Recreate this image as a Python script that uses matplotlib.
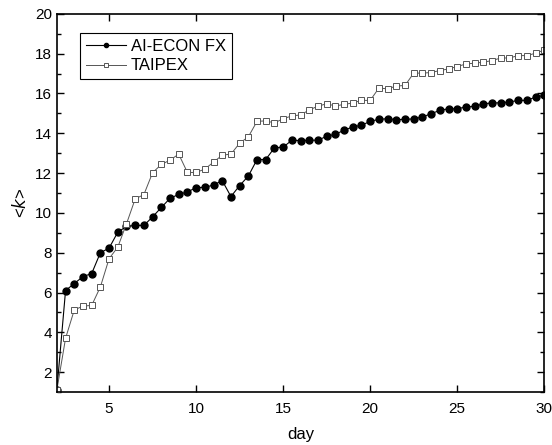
import numpy as np
import matplotlib
matplotlib.use("Agg")
import matplotlib.pyplot as plt
from matplotlib.ticker import MultipleLocator

plt.rcParams['font.family'] = ['Liberation Sans', 'DejaVu Sans']

# day axis: one sample every half day
days = np.arange(2.0, 30.01, 0.5)

ai_econ = [1.1, 6.1, 6.45, 6.8, 6.95, 8.0, 8.23, 9.03, 9.32, 9.37, 9.37, 9.8,
           10.27, 10.73, 10.93, 11.05, 11.27, 11.28, 11.4, 11.62, 10.82, 11.37,
           11.85, 12.68, 12.68, 13.27, 13.3, 13.65, 13.63, 13.65, 13.65, 13.85,
           13.95, 14.15, 14.32, 14.4, 14.6, 14.7, 14.73, 14.68, 14.7, 14.72,
           14.82, 14.98, 15.15, 15.23, 15.23, 15.32, 15.35, 15.48, 15.52, 15.53,
           15.57, 15.65, 15.65, 15.82, 15.9]

taipex = [1.1, 3.7, 5.12, 5.32, 5.35, 6.28, 7.7, 8.28, 9.45, 10.7, 10.92, 12.02,
          12.43, 12.65, 12.95, 12.03, 12.03, 12.2, 12.55, 12.9, 12.95, 13.5,
          13.82, 14.6, 14.62, 14.52, 14.73, 14.87, 14.92, 15.17, 15.36, 15.48,
          15.37, 15.45, 15.52, 15.65, 15.65, 16.27, 16.23, 16.37, 16.4, 17.02,
          17.02, 17.05, 17.15, 17.23, 17.35, 17.48, 17.52, 17.57, 17.65, 17.78,
          17.78, 17.9, 17.9, 18.02, 18.18]

fig = plt.figure(figsize=(5.52, 4.45), dpi=100)
ax = fig.add_axes([0.103, 0.119, 0.883, 0.850])

ax.plot(days, ai_econ, color='black', lw=0.8, marker='o', ms=5,
        mfc='black', mec='black', label='AI-ECON FX')
ax.plot(days, taipex, color='#555555', lw=0.7, marker='s', ms=4,
        mfc='white', mec='#555555', mew=0.7, label='TAIPEX')

ax.set_xlim(2, 30)
ax.set_ylim(1, 20)
ax.xaxis.set_major_locator(MultipleLocator(5))
ax.yaxis.set_major_locator(MultipleLocator(2))
ax.yaxis.set_minor_locator(MultipleLocator(1))
ax.tick_params(which='both', direction='in', top=True, right=True,
               labelsize=11, width=1)
ax.tick_params(which='major', length=5)
ax.tick_params(which='minor', length=3)
ax.tick_params(axis='x', pad=7)
for sp in ax.spines.values():
    sp.set_linewidth(1.2)

ax.set_xlabel('day', fontsize=12, labelpad=8)
ax.set_ylabel(r'<$k$>', fontsize=12)

leg = ax.legend(loc='upper left', bbox_to_anchor=(0.03, 0.97), fontsize=12,
                fancybox=False, edgecolor='black', framealpha=1,
                handlelength=2.4, borderpad=0.35, labelspacing=0.25,
                handletextpad=0.3, markerscale=0.6)
leg.get_frame().set_linewidth(0.8)

fig.savefig('out.png', dpi=100)
